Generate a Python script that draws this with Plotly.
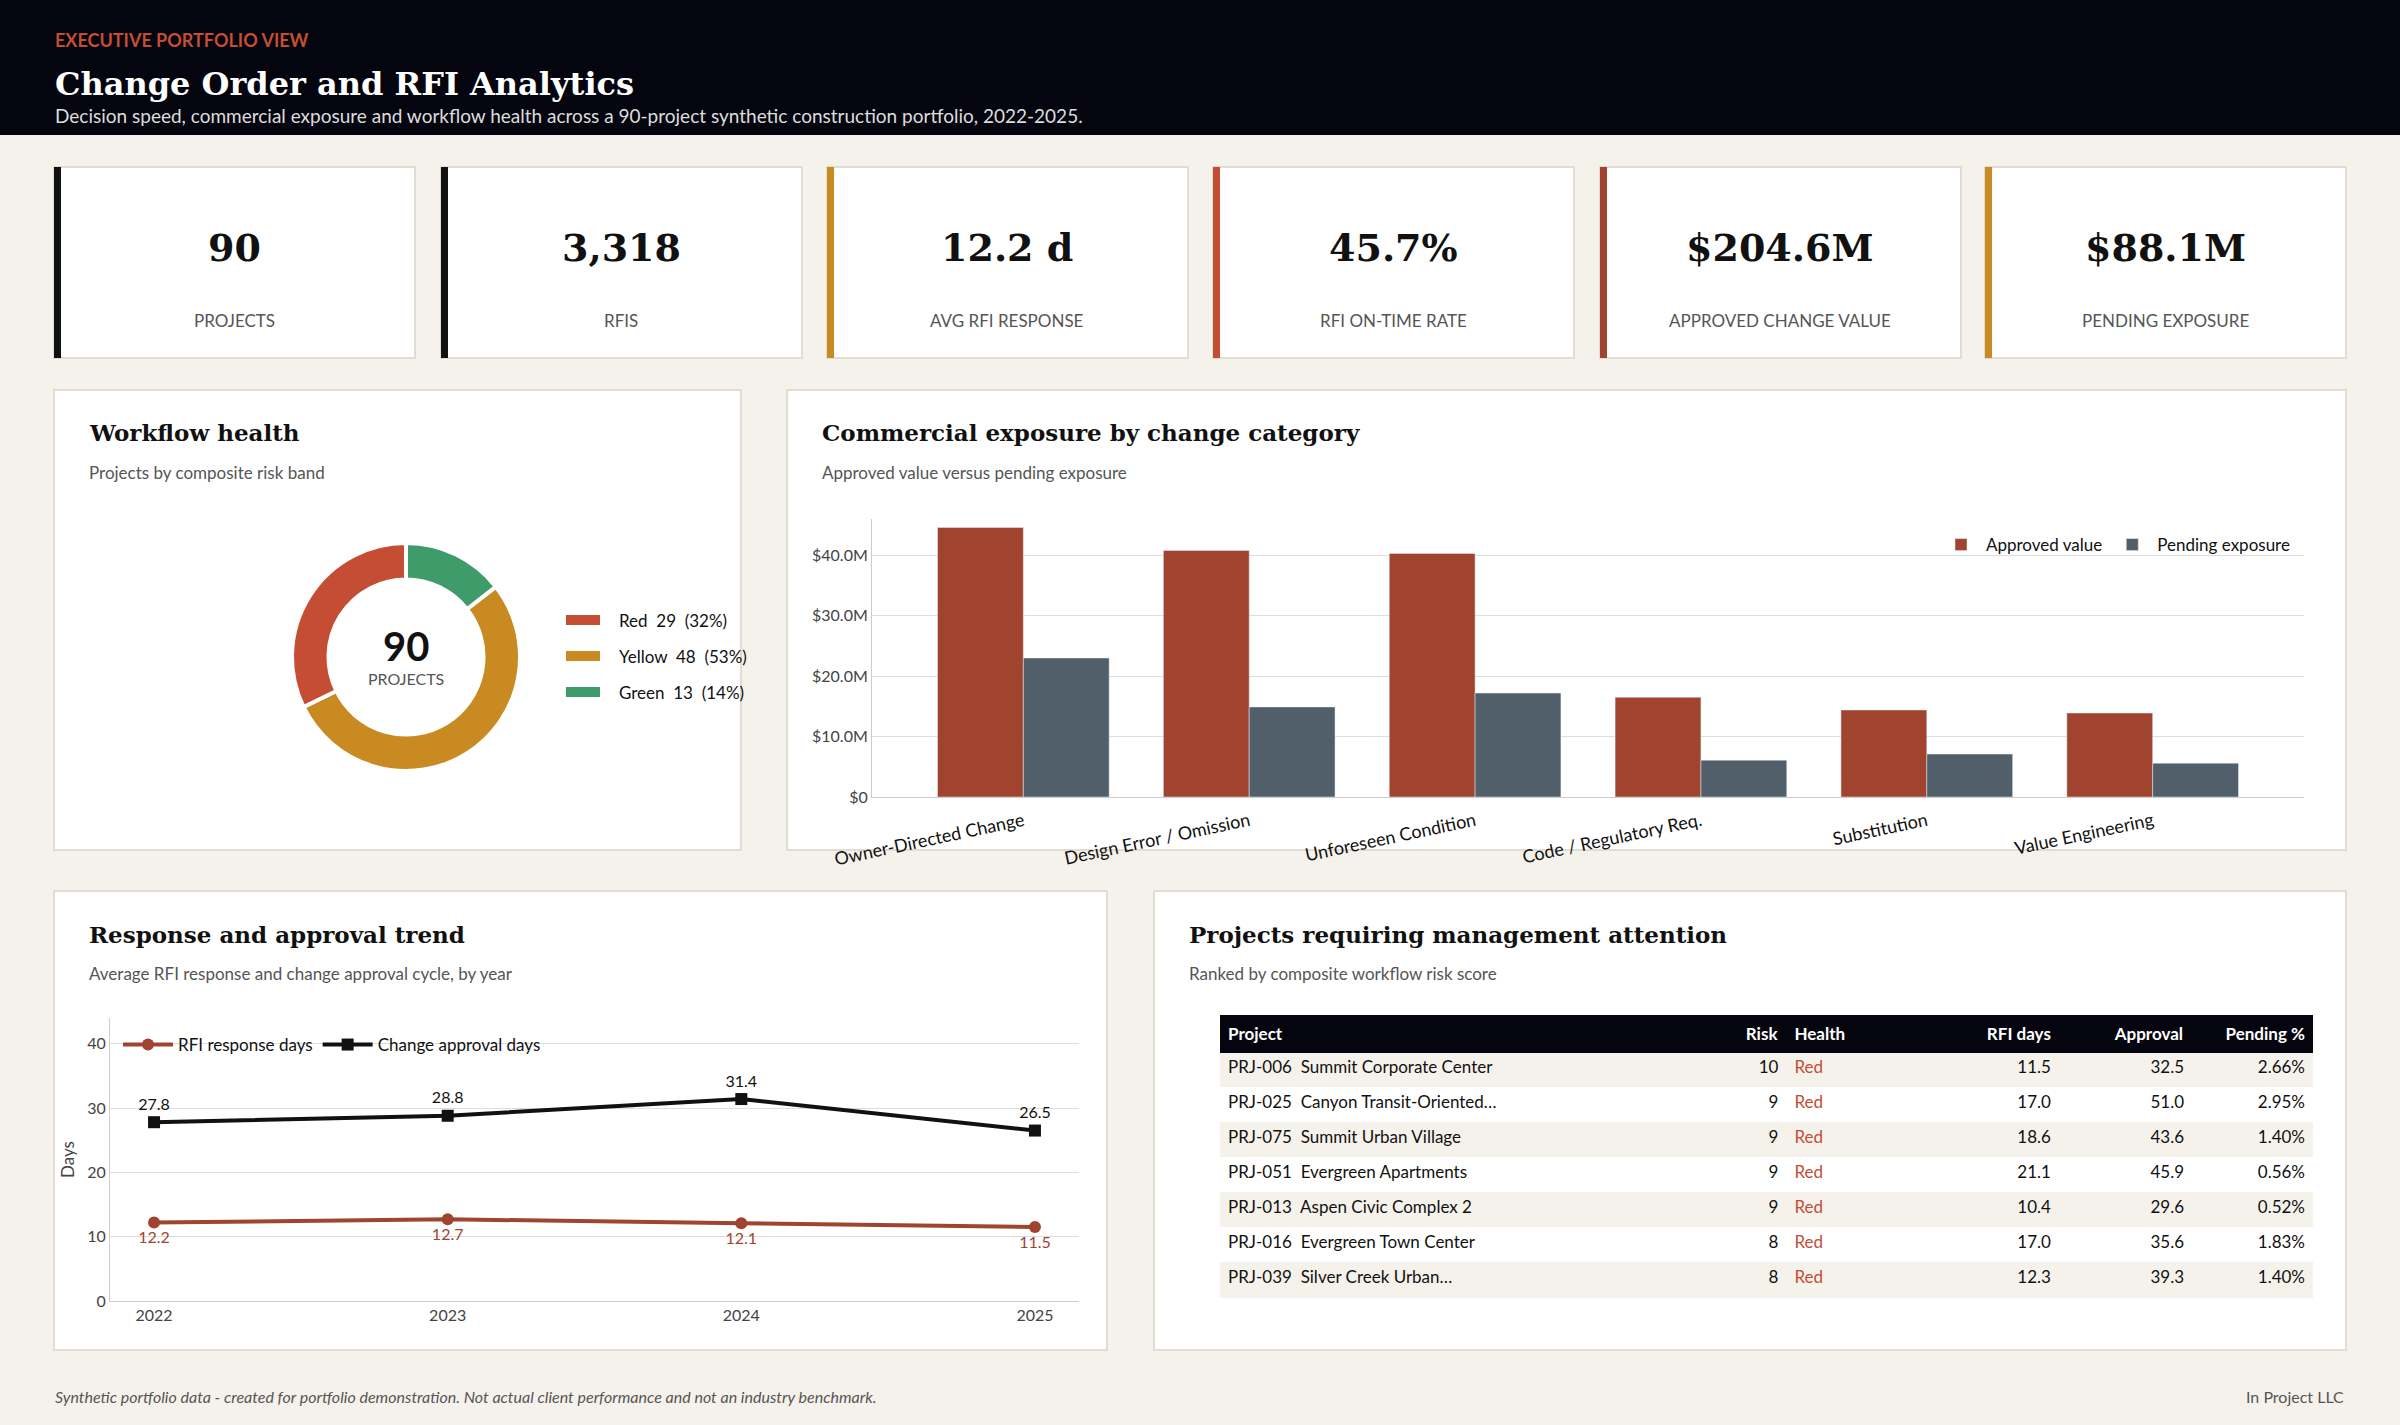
import plotly.graph_objects as go

W, H = 2400, 1425
BG = "#F5F2EC"
INK = "#111111"
MUTED = "#555555"
RED = "#C44D34"
RUST = "#A04430"
GOLD = "#C98A22"
GREEN = "#3E9B6A"
SLATE = "#515F6B"
SANS = "Lato, 'Noto Sans', sans-serif"
SERIF = "'DejaVu Serif', serif"

# ---- data ----
kpi_values = ["90", "3,318", "12.2 d", "45.7%", "$204.6M", "$88.1M"]
kpi_labels = ["PROJECTS", "RFIS", "AVG RFI RESPONSE", "RFI ON-TIME RATE", "APPROVED CHANGE VALUE", "PENDING EXPOSURE"]
kpi_accents = [INK, INK, GOLD, RED, RUST, GOLD]

health_bands = ["Green", "Yellow", "Red"]
health_counts = [13, 48, 29]
health_colors = [GREEN, GOLD, RED]

categories = ["Owner-Directed Change", "Design Error / Omission", "Unforeseen Condition",
              "Code / Regulatory Req.", "Substitution", "Value Engineering"]
approved_m = [44.6, 40.8, 40.3, 16.5, 14.4, 13.9]
pending_m = [23.0, 14.9, 17.2, 6.1, 7.1, 5.6]

years = [2022, 2023, 2024, 2025]
rfi_days = [12.2, 12.7, 12.1, 11.5]
approval_days = [27.8, 28.8, 31.4, 26.5]

tbl_project = ["PRJ-006  Summit Corporate Center", "PRJ-025  Canyon Transit-Oriented…",
               "PRJ-075  Summit Urban Village", "PRJ-051  Evergreen Apartments",
               "PRJ-013  Aspen Civic Complex 2", "PRJ-016  Evergreen Town Center",
               "PRJ-039  Silver Creek Urban…"]
tbl_risk = [10, 9, 9, 9, 9, 8, 8]
tbl_health = ["Red"] * 7
tbl_rfi = [11.5, 17.0, 18.6, 21.1, 10.4, 17.0, 12.3]
tbl_approval = [32.5, 51.0, 43.6, 45.9, 29.6, 35.6, 39.3]
tbl_pending = [2.66, 2.95, 1.40, 0.56, 0.52, 1.83, 1.40]


def X(px):
    return px / W


def Y(py):
    return 1 - py / H


shapes, annos = [], []


def text(x, y, s, size, color=INK, family=SANS, xanchor="left", bold=False, italic=False):
    if bold:
        s = "<b>" + s + "</b>"
    if italic:
        s = "<i>" + s + "</i>"
    annos.append(dict(x=X(x), y=Y(y), xref="paper", yref="paper", text=s, showarrow=False,
                      xanchor=xanchor, yanchor="middle", font=dict(size=size, color=color, family=family)))


def rect(x0, y0, x1, y1, fill, line=None, lw=0):
    shapes.append(dict(type="rect", xref="paper", yref="paper", x0=X(x0), x1=X(x1), y0=Y(y1), y1=Y(y0),
                       fillcolor=fill, line=dict(color=line or fill, width=lw), layer="below"))


# header
rect(0, 0, W, 135, "#05050F")
text(53, 40, "EXECUTIVE PORTFOLIO VIEW", 18, RED, bold=True)
text(53, 84, "Change Order and RFI Analytics", 32, "white", SERIF, bold=True)
text(53, 116, "Decision speed, commercial exposure and workflow health across a 90-project synthetic "
     "construction portfolio, 2022-2025.", 19, "#DDDDDD")

# KPI cards
card_x = [54, 441, 827, 1213, 1600, 1985]
for i, cx in enumerate(card_x):
    rect(cx, 167, cx + 361, 358, "white", "#E2DDD2", 2)
    rect(cx, 167, cx + 7, 358, kpi_accents[i])
    text(cx + 180, 248, kpi_values[i], 38, INK, SERIF, "center", bold=True)
    text(cx + 180, 320, kpi_labels[i], 17, MUTED, xanchor="center")

# panels
panels = [
    (54, 390, 741, 850, "Workflow health", "Projects by composite risk band"),
    (787, 390, 2346, 850, "Commercial exposure by change category", "Approved value versus pending exposure"),
    (54, 891, 1107, 1350, "Response and approval trend", "Average RFI response and change approval cycle, by year"),
    (1154, 891, 2346, 1350, "Projects requiring management attention", "Ranked by composite workflow risk score"),
]
for x0, y0, x1, y1, t, st in panels:
    rect(x0, y0, x1, y1, "white", "#E2DDD2", 2)
    text(x0 + 33, y0 + 43, t, 23, INK, SERIF, bold=True)
    text(x0 + 33, y0 + 82, st, 17, MUTED)

fig = go.Figure()

# donut
fig.add_trace(go.Pie(labels=health_bands, values=health_counts, hole=0.68, sort=False,
                     direction="clockwise", rotation=0, marker=dict(colors=health_colors,
                     line=dict(color="white", width=4)), textinfo="none", showlegend=False,
                     hoverinfo="label+value", domain=dict(x=[X(292), X(520)], y=[Y(771), Y(543)])))
total = sum(health_counts)
text(406, 646, str(total), 40, INK, bold=True, xanchor="center")
text(406, 678, "PROJECTS", 16, MUTED, xanchor="center")
order = [2, 1, 0]
for k, i in enumerate(order):
    yy = 620 + k * 36
    rect(566, yy - 5, 600, yy + 5, health_colors[i])
    text(617, yy, f"{health_bands[i]}  {health_counts[i]}  ({round(100 * health_counts[i] / total)}%)", 17, INK)

# bars
fig.add_trace(go.Bar(x=categories, y=approved_m, name="Approved value", marker_color=RUST,
                     xaxis="x", yaxis="y", legend="legend"))
fig.add_trace(go.Bar(x=categories, y=pending_m, name="Pending exposure", marker_color=SLATE,
                     xaxis="x", yaxis="y", legend="legend"))

# lines
fig.add_trace(go.Scatter(x=years, y=rfi_days, name="RFI response days", mode="lines+markers+text",
                         line=dict(color=RUST, width=4), marker=dict(size=12, symbol="circle"),
                         text=[f"{v:.1f}" for v in rfi_days], textposition="bottom center",
                         textfont=dict(color=RUST, size=16), xaxis="x2", yaxis="y2", legend="legend2"))
fig.add_trace(go.Scatter(x=years, y=approval_days, name="Change approval days", mode="lines+markers+text",
                         line=dict(color=INK, width=4), marker=dict(size=12, symbol="square"),
                         text=[f"{v:.1f}" for v in approval_days], textposition="top center",
                         textfont=dict(color=INK, size=16), xaxis="x2", yaxis="y2", legend="legend2"))

# table
health_font = [RED] * len(tbl_health)
row_fill = [BG if i % 2 == 0 else "white" for i in range(len(tbl_project))]
fig.add_trace(go.Table(
    domain=dict(x=[X(1220), X(2313)], y=[Y(1310), Y(1015)]),
    columnwidth=[331, 39, 93, 85, 87, 79],
    header=dict(values=["<b>Project</b>", "<b>Risk</b>", "<b>Health</b>", "<b>RFI days</b>",
                        "<b>Approval</b>", "<b>Pending %</b>"],
                fill_color="#05050F", line_color="#05050F", height=35,
                align=["left", "right", "left", "right", "right", "right"],
                font=dict(color="white", size=17, family=SANS)),
    cells=dict(values=[tbl_project, tbl_risk, tbl_health, [f"{v:.1f}" for v in tbl_rfi],
                       [f"{v:.1f}" for v in tbl_approval], [f"{v:.2f}%" for v in tbl_pending]],
               fill_color=[row_fill] * 6, line_color=[row_fill] * 6, height=35,
               align=["left", "right", "left", "right", "right", "right"],
               font=dict(color=[[INK] * 7, [INK] * 7, health_font, [INK] * 7, [INK] * 7, [INK] * 7],
                         size=17, family=SANS))))

# footer
text(53, 1396, "Synthetic portfolio data - created for portfolio demonstration. Not actual client "
     "performance and not an industry benchmark.", 16, MUTED, italic=True)
text(2346, 1396, "In Project LLC", 16, MUTED, xanchor="right")

bar_ticks = [0, 10, 20, 30, 40]
fig.update_layout(
    width=W, height=H, margin=dict(l=0, r=0, t=0, b=0, autoexpand=False),
    paper_bgcolor=BG, plot_bgcolor="rgba(0,0,0,0)",
    font=dict(family=SANS, color=INK, size=16),
    shapes=shapes, annotations=annos,
    barmode="group", bargap=0.24, bargroupgap=0,
    xaxis=dict(domain=[X(872), X(2304)], range=[-0.67, 5.67], tickangle=-12, tickfont=dict(size=18),
               showgrid=False, linecolor="#CCCCCC", ticks="outside", ticklen=6, tickcolor="rgba(0,0,0,0)",
               automargin=False),
    yaxis=dict(domain=[Y(797), Y(519)], range=[0, 46], tickvals=bar_ticks,
               ticktext=["$0" if v == 0 else f"${v:.1f}M" for v in bar_ticks], automargin=False,
               gridcolor="#DDDDDD", showline=True, linecolor="#CCCCCC", tickfont=dict(size=16, color="#444"),
               zeroline=False),
    xaxis2=dict(domain=[X(110), X(1079)], range=[2021.85, 2025.15], tickvals=years, automargin=False,
                showgrid=False, showline=True, linecolor="#CCCCCC", anchor="y2", tickfont=dict(size=16, color="#444")),
    yaxis2=dict(domain=[Y(1301), Y(1018)], range=[0, 44], tickvals=[0, 10, 20, 30, 40], automargin=False,
                gridcolor="#DDDDDD", showline=True, linecolor="#CCCCCC", anchor="x2", zeroline=False,
                title=dict(text="Days", font=dict(size=17, color="#444"), standoff=8),
                tickfont=dict(size=16, color="#444")),
    legend=dict(orientation="h", x=X(2295), xanchor="right", y=Y(545), yanchor="middle",
                bgcolor="rgba(0,0,0,0)", font=dict(size=17), traceorder="normal", itemwidth=40),
    legend2=dict(orientation="h", x=X(118), xanchor="left", y=Y(1045), yanchor="middle",
                 bgcolor="rgba(0,0,0,0)", font=dict(size=17), itemwidth=50),
)

fig.write_html("out.html", config={"displayModeBar": False},
               post_script="document.body.style.margin='0';")
